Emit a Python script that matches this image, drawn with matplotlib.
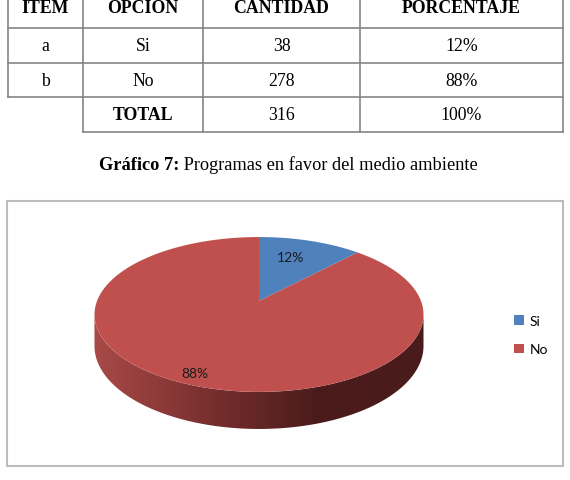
import numpy as np
import matplotlib
matplotlib.use("Agg")
import matplotlib.pyplot as plt
from matplotlib.patches import Polygon, Rectangle, Patch
from matplotlib.colors import LinearSegmentedColormap

# table data
headers = ["ITEM", "OPCION", "CANTIDAD", "PORCENTAJE"]
items = ["a", "b"]
options = ["Si", "No"]
counts = [38, 278]
percents = ["12%", "88%"]
total_label = "TOTAL"
total_count = 316
total_pct = "100%"

title_bold = "Gráfico 7:"
title_text = " Programas en favor del medio ambiente"

# pie colours (Excel default)
slice_colors = ["#4F81BD", "#C0504D"]

# 3d pie projection parameters (pixel space)
cx, cy = 259, 302      # apex of the pie
s, c = 162, 75.1       # horizontal / vertical radius
k = 0.174              # perspective
h = 30.6               # thickness


def project(u, v, z):
    w = 1 + k * v
    return cx + s * u / w, cy - (c * v + h * z) / w


def arc(t0, t1, z, n=120):
    t = np.linspace(t0, t1, n)
    return np.column_stack(project(np.sin(t), np.cos(t), z))


fig = plt.figure(figsize=(5.70, 4.81), dpi=100)
ax = fig.add_axes([0, 0, 1, 1])
ax.set_axis_off()

serif = "Liberation Serif"
sans = "Lato"
line_col = "#858585"
fs = 12.8

# ---- table ----
col_x = [8, 83, 203, 360, 563]
row_y = [-10, 28.5, 64, 98, 133]
for y in row_y[1:4]:
    ax.plot([col_x[0], col_x[-1]], [y, y], color=line_col, lw=1.2)
ax.plot([col_x[1], col_x[-1]], [row_y[4], row_y[4]], color=line_col, lw=1.2)
ax.plot([col_x[0], col_x[0]], [row_y[0], row_y[3]], color=line_col, lw=1.2)
for x in col_x[1:]:
    ax.plot([x, x], [row_y[0], row_y[4]], color=line_col, lw=1.2)

centers = [(col_x[i] + col_x[i + 1]) / 2 for i in range(4)]
for i, hd in enumerate(headers):
    ax.text(centers[i], 13, hd, ha="center", va="baseline", family=serif,
            fontweight="bold", fontsize=fs)
rows = [[items[i], options[i], str(counts[i]), percents[i]] for i in range(2)]
for r, row in enumerate(rows):
    ym = (row_y[r + 1] + row_y[r + 2]) / 2
    for i, val in enumerate(row):
        ax.text(centers[i], ym, val, ha="center", va="center", family=serif, fontsize=fs)
ym = (row_y[3] + row_y[4]) / 2
ax.text(centers[1], ym, total_label, ha="center", va="center", family=serif,
        fontweight="bold", fontsize=fs)
ax.text(centers[2], ym, str(total_count), ha="center", va="center", family=serif, fontsize=fs)
ax.text(centers[3], ym, total_pct, ha="center", va="center", family=serif, fontsize=fs)

# ---- title ----
t1 = ax.text(0, 170, title_bold, ha="left", va="baseline", family=serif,
             fontweight="bold", fontsize=13.2)
t2 = ax.text(0, 170, title_text, ha="left", va="baseline", family=serif, fontsize=13.2)
fig.canvas.draw()
r = fig.canvas.get_renderer()
w1 = t1.get_window_extent(r).width
w2 = t2.get_window_extent(r).width
x0 = 288.5 - (w1 + w2) / 2
t1.set_x(x0)
t2.set_x(x0 + w1)

# ---- chart frame ----
ax.add_patch(Rectangle((7, 202), 556, 265, fill=False, ec="#bdbdbd", lw=1.5))

# ---- 3d pie ----
fracs = np.array(counts) / sum(counts)
bounds = np.concatenate([[0], np.cumsum(fracs)]) * 2 * np.pi

# side (front arc)
ta = np.arccos(-k)
tb = 2 * np.pi - np.arccos(-k)
side = np.vstack([arc(ta, tb, 0), arc(tb, ta, -1)])
side_patch = Polygon(side, closed=True, fc="none", ec="none")
ax.add_patch(side_patch)
side_cmap = LinearSegmentedColormap.from_list(
    "side", ["#a84a48", "#7a302f", "#4c1c1c", "#4a1b1b"])
grad = np.linspace(0, 1, 256).reshape(1, -1)
im = ax.imshow(grad, extent=(side[:, 0].min(), side[:, 0].max(),
                             side[:, 1].max(), side[:, 1].min()),
               aspect="auto", cmap=side_cmap, zorder=1)
im.set_clip_path(side_patch)

# top face wedges
for i in range(len(counts)):
    pts = np.vstack([[project(0, 0, 0)], arc(bounds[i], bounds[i + 1], 0)])
    ax.add_patch(Polygon(pts, closed=True, fc=slice_colors[i], ec="none", zorder=2))

# data labels
label_r = [0.7, 0.88]
label_dx = [-6, -3]
for i in range(len(counts)):
    mid = (bounds[i] + bounds[i + 1]) / 2
    lx, ly = project(label_r[i] * np.sin(mid), label_r[i] * np.cos(mid), 0)
    ax.text(lx + label_dx[i], ly, percents[i], ha="center", va="center", family=sans,
            fontsize=10, color="#1a1a1a", zorder=3)

# legend
handles = [Patch(fc=slice_colors[i], ec="none", label=options[i]) for i in range(len(options))]
ax.legend(handles=handles, loc="center left", bbox_to_anchor=(514 / 570, 1 - 336 / 481),
          frameon=False, handlelength=0.7, handleheight=0.7, handletextpad=0.45,
          labelspacing=1.2, borderpad=0, borderaxespad=0,
          prop={"family": sans, "size": 10})

ax.set_xlim(0, 570)
ax.set_ylim(481, 0)

fig.savefig("out.png", dpi=100)
